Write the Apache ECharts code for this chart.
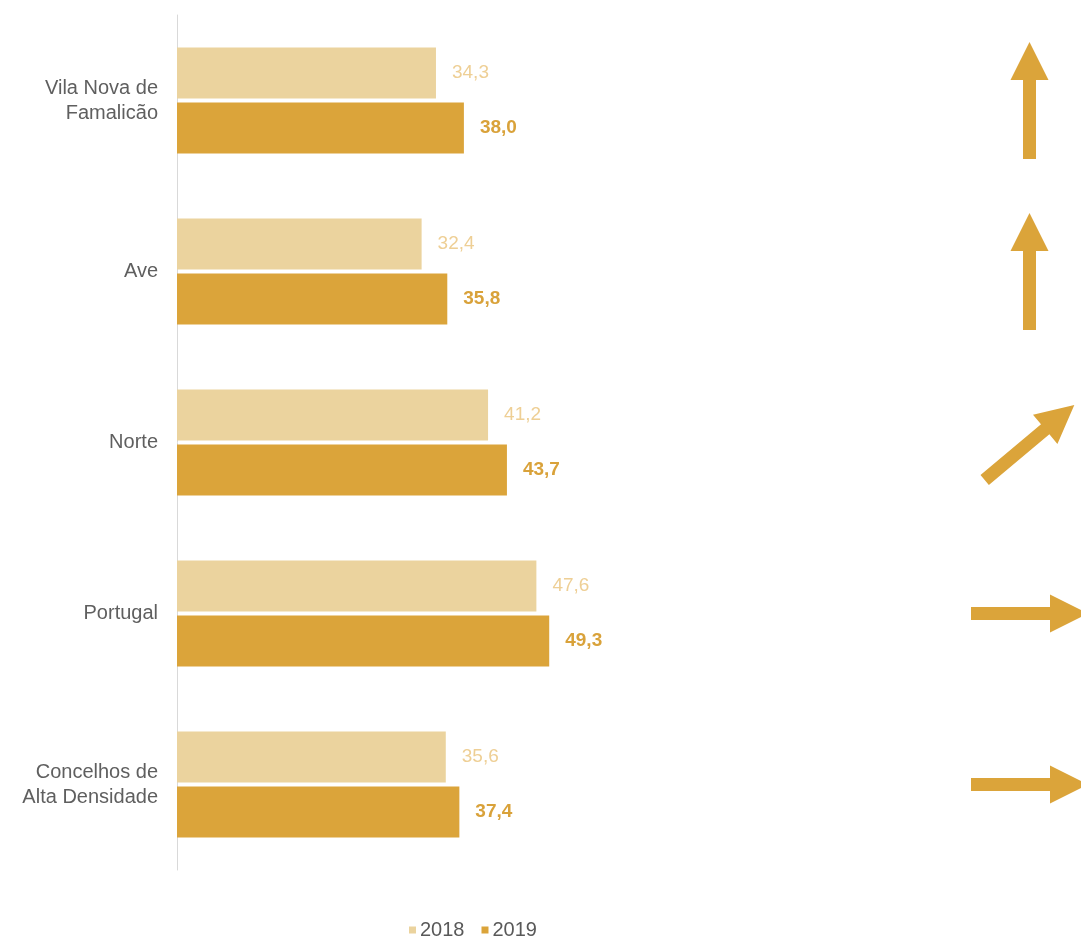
<!DOCTYPE html>
<html>
<head>
<meta charset="utf-8">
<script src="https://cdn.jsdelivr.net/npm/echarts@6/dist/echarts.min.js"></script>
<style>
  html, body { margin: 0; padding: 0; background: #ffffff; }
  #chart { width: 1081px; height: 937px; }
</style>
</head>
<body>
<div id="chart"></div>
<script>
// Regions compared, top to bottom
const categories = ['Vila Nova de\nFamalicão', 'Ave', 'Norte', 'Portugal', 'Concelhos de\nAlta Densidade'];
const seriesNames = ['2018', '2019'];
const values2018 = [34.3, 32.4, 41.2, 47.6, 35.6];
const values2019 = [38.0, 35.8, 43.7, 49.3, 37.4];
// Trend arrow direction per region, degrees counter-clockwise from pointing right
const trendAngles = [90, 90, 40, 0, 0];

const colLight = '#EBD39E';
const colDark = '#DBA43A';
const fontFamily = '"Liberation Sans", Arial, sans-serif';

// Right-pointing arrow outline, rotated per region
const arrowPath = 'path://M0,12.5L79,12.5L79,0L117,19L79,38L79,25.5L0,25.5Z';

const fmt = v => v.toFixed(1).replace('.', ',');

const chart = echarts.init(document.getElementById('chart'), null, { renderer: 'canvas' });

chart.setOption({
  animation: false,
  backgroundColor: '#ffffff',
  textStyle: { fontFamily: fontFamily },
  legend: {
    data: seriesNames,
    left: 404,
    top: 915,
    itemWidth: 7,
    itemHeight: 7,
    itemGap: 17,
    icon: 'rect',
    textStyle: { color: '#595959', fontSize: 20, fontFamily: fontFamily, padding: [0, 0, 0, -1] }
  },
  grid: [
    { left: 177, right: 149, top: 15, bottom: 67, containLabel: false },
    { left: 978, width: 112, top: 15, bottom: 67, containLabel: false }
  ],
  xAxis: [
    { type: 'value', gridIndex: 0, min: 0, max: 100, show: false },
    { type: 'value', gridIndex: 1, min: -1, max: 1, show: false }
  ],
  yAxis: [
    {
      type: 'category',
      gridIndex: 0,
      data: categories,
      inverse: true,
      axisLine: { show: true, lineStyle: { color: '#D9D9D9', width: 1 } },
      axisTick: { show: false },
      axisLabel: {
        color: '#5F5F5F',
        fontSize: 20,
        lineHeight: 25,
        margin: 19,
        align: 'right',
        fontFamily: fontFamily
      }
    },
    {
      type: 'category',
      gridIndex: 1,
      data: categories,
      inverse: true,
      show: false
    }
  ],
  series: [
    {
      name: seriesNames[0],
      type: 'bar',
      xAxisIndex: 0,
      yAxisIndex: 0,
      data: values2018,
      barWidth: 51,
      barGap: '8%',
      itemStyle: { color: colLight },
      label: {
        show: true,
        position: 'right',
        distance: 16,
        color: '#EECF95',
        fontSize: 19,
        fontFamily: fontFamily,
        formatter: p => fmt(p.value)
      }
    },
    {
      name: seriesNames[1],
      type: 'bar',
      xAxisIndex: 0,
      yAxisIndex: 0,
      data: values2019,
      barWidth: 51,
      barGap: '8%',
      itemStyle: { color: colDark },
      label: {
        show: true,
        position: 'right',
        distance: 16,
        color: '#D9A23A',
        fontWeight: 'bold',
        fontSize: 19,
        fontFamily: fontFamily,
        formatter: p => fmt(p.value)
      }
    },
    {
      name: 'trend',
      type: 'scatter',
      xAxisIndex: 1,
      yAxisIndex: 1,
      symbol: arrowPath,
      symbolSize: [117, 38],
      symbolKeepAspect: false,
      itemStyle: { color: colDark, opacity: 1 },
      data: trendAngles.map((a, i) => ({ value: [0, i], symbolRotate: a })),
      silent: true
    }
  ]
});
</script>
</body>
</html>
